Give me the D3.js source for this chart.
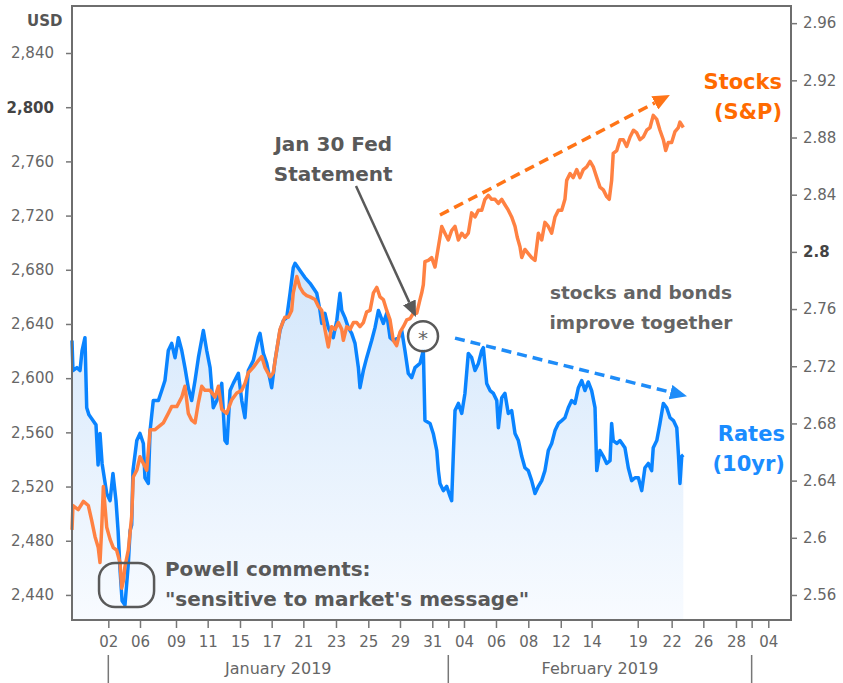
<!DOCTYPE html>
<html>
<head>
<meta charset="utf-8">
<script src="https://cdn.jsdelivr.net/npm/d3@7"></script>
<style>
  body { margin: 0; background: #fff; }
  text { font-family: "DejaVu Sans", Verdana, sans-serif; }
</style>
</head>
<body>
<script>
// page and plot box
var w = 843, h = 683;
var plotLeft = 72, plotRight = 791, plotTop = 6, plotBottom = 620;

// x is counted in trading sessions from Jan 02 2019 (weekends squeezed out)
var tickDays = [0, 1.98, 4.23, 6.21, 8.23, 10.21, 12.19, 14.23, 16.25, 18.23, 20.25, 21.25,
                22.23, 24.23, 26.25, 28.28, 30.21, 33.09, 35.21, 37.19, 39.23, 40.21, 41.25];
var tickLabels = ["02", "06", "09", "11", "15", "17", "21", "23", "25", "29", "31", "",
                  "04", "06", "08", "12", "14", "19", "22", "26", "28", "", "04"];
var monthNames = ["January 2019", "February 2019"];
var monthBounds = [0, 21.25, 40.21];

var usdTicks = [2440, 2480, 2520, 2560, 2600, 2640, 2680, 2720, 2760, 2800, 2840];
var rateTicks = [2.56, 2.6, 2.64, 2.68, 2.72, 2.76, 2.8, 2.84, 2.88, 2.92, 2.96];

// 10yr treasury yield (right axis)
var rateDays = [-2.27,-2.21,-1.96,-1.77,-1.64,-1.46,-1.35,-1.21,-0.96,-0.77,
  -0.64,-0.52,-0.39,-0.10,0.11,0.29,0.48,0.61,0.73,0.86,
  1.04,1.25,1.36,1.46,1.54,1.78,1.98,2.19,2.29,2.50,
  2.61,2.81,3.13,3.34,3.54,3.75,3.96,4.17,4.38,4.59,
  4.79,5.00,5.21,5.42,5.63,5.94,6.15,6.36,6.56,6.78,
  7.09,7.29,7.42,7.61,7.81,8.13,8.34,8.54,8.75,9.06,
  9.38,9.48,9.69,9.90,10.21,10.42,10.73,10.94,11.15,11.36,
  11.56,11.67,11.98,12.29,12.61,13.03,13.23,13.34,13.54,13.75,
  14.06,14.28,14.48,14.59,14.79,15.00,15.21,15.42,15.63,15.73,
  15.94,16.15,16.46,16.67,16.88,17.19,17.40,17.61,17.81,18.13,
  18.34,18.54,18.75,18.96,19.17,19.48,19.69,19.79,20.11,20.31,
  20.53,20.63,20.73,20.94,21.15,21.36,21.46,21.56,21.67,21.88,
  22.09,22.29,22.50,22.71,22.92,23.13,23.34,23.44,23.65,23.86,
  24.07,24.28,24.38,24.59,24.79,25.00,25.21,25.42,25.63,25.84,
  26.04,26.25,26.46,26.67,26.88,27.09,27.29,27.50,27.71,27.92,
  28.13,28.34,28.54,28.75,28.96,29.17,29.38,29.59,29.79,30.00,
  30.21,30.42,30.53,30.73,30.94,31.15,31.36,31.46,31.56,31.78,
  31.98,32.29,32.50,32.71,32.92,33.13,33.34,33.54,33.75,33.96,
  34.06,34.28,34.48,34.69,34.90,35.11,35.32,35.53,35.63,35.73,
  35.84,35.94];
var rateValues = [2.738,2.717,2.719,2.717,2.731,2.740,2.691,2.686,2.682,2.679,
  2.651,2.673,2.652,2.631,2.626,2.645,2.626,2.605,2.578,2.556,
  2.553,2.582,2.605,2.609,2.647,2.668,2.673,2.666,2.642,2.638,
  2.675,2.696,2.696,2.703,2.710,2.731,2.736,2.726,2.740,2.731,
  2.719,2.705,2.696,2.710,2.726,2.745,2.731,2.719,2.691,2.696,
  2.708,2.668,2.666,2.703,2.708,2.715,2.696,2.684,2.717,2.724,
  2.740,2.743,2.729,2.722,2.705,2.724,2.745,2.752,2.754,2.771,
  2.789,2.792,2.787,2.782,2.778,2.771,2.759,2.750,2.757,2.747,
  2.740,2.752,2.771,2.759,2.754,2.747,2.743,2.736,2.719,2.705,
  2.717,2.726,2.738,2.747,2.759,2.750,2.757,2.740,2.738,2.740,
  2.745,2.731,2.715,2.712,2.719,2.722,2.731,2.682,2.680,2.673,
  2.661,2.647,2.638,2.633,2.636,2.629,2.626,2.657,2.689,2.694,
  2.687,2.701,2.729,2.726,2.717,2.722,2.731,2.733,2.708,2.703,
  2.701,2.696,2.677,2.698,2.701,2.687,2.689,2.673,2.668,2.657,
  2.649,2.647,2.640,2.631,2.636,2.640,2.647,2.661,2.666,2.675,
  2.680,2.682,2.684,2.691,2.696,2.694,2.705,2.710,2.703,2.709,
  2.703,2.691,2.647,2.661,2.657,2.652,2.654,2.680,2.668,2.666,
  2.668,2.663,2.649,2.640,2.642,2.642,2.633,2.649,2.652,2.647,
  2.663,2.668,2.680,2.694,2.691,2.684,2.682,2.677,2.659,2.638,
  2.657,2.658];

// S&P 500 (left axis, USD)
var spxDays = [-2.27,-2.21,-1.88,-1.56,-1.25,-1.04,-0.83,-0.63,-0.52,-0.41,
  -0.31,-0.10,0.11,0.31,0.52,0.73,0.84,0.95,1.04,1.25,
  1.46,1.56,1.78,1.98,2.19,2.40,2.61,2.92,3.13,3.44,
  3.75,3.96,4.28,4.59,4.79,5.00,5.21,5.42,5.63,5.84,
  6.04,6.36,6.67,6.88,7.09,7.40,7.71,8.03,8.34,8.54,
  8.75,9.06,9.38,9.59,9.79,10.11,10.31,10.53,10.73,11.04,
  11.25,11.46,11.56,11.78,11.98,12.19,12.40,12.61,12.92,13.13,
  13.34,13.54,13.75,13.96,14.17,14.38,14.59,14.69,14.90,15.11,
  15.32,15.53,15.73,15.94,16.15,16.36,16.57,16.78,16.98,17.19,
  17.40,17.61,17.81,18.02,18.23,18.44,18.65,18.86,19.07,19.28,
  19.48,19.59,19.69,19.79,20.00,20.21,20.42,20.63,20.84,21.04,
  21.25,21.46,21.67,21.88,22.09,22.29,22.50,22.71,22.92,23.13,
  23.34,23.54,23.75,23.96,24.17,24.38,24.59,24.79,25.00,25.21,
  25.42,25.56,25.73,25.84,26.04,26.25,26.46,26.67,26.88,27.09,
  27.29,27.50,27.71,27.92,28.13,28.34,28.54,28.65,28.86,29.06,
  29.28,29.48,29.69,29.90,30.11,30.31,30.53,30.73,30.94,31.15,
  31.31,31.46,31.56,31.78,31.98,32.19,32.40,32.61,32.82,33.03,
  33.23,33.44,33.65,33.86,34.06,34.28,34.48,34.69,34.84,35.00,
  35.21,35.42,35.63,35.73,35.94];
var spxValues = [2488,2506,2503,2509,2506,2495,2483,2475,2464,2490,
  2520,2490,2481,2475,2473,2464,2445,2451,2461,2473,
  2498,2527,2532,2542,2537,2532,2562,2562,2564,2567,
  2574,2579,2579,2586,2594,2574,2569,2567,2582,2594,
  2591,2591,2586,2594,2577,2574,2584,2589,2591,2596,
  2604,2608,2613,2616,2608,2601,2604,2621,2636,2645,
  2645,2650,2663,2675,2667,2663,2661,2660,2658,2653,
  2650,2636,2623,2638,2636,2641,2636,2628,2638,2636,
  2641,2641,2638,2641,2649,2650,2663,2667,2660,2658,
  2650,2643,2628,2624,2634,2638,2643,2644,2648,2648,
  2658,2663,2669,2686,2687,2689,2682,2697,2712,2707,
  2702,2709,2712,2702,2707,2704,2707,2722,2719,2724,
  2724,2732,2735,2732,2732,2729,2732,2728,2724,2719,
  2712,2704,2697,2689,2695,2692,2689,2687,2707,2702,
  2715,2712,2707,2719,2724,2724,2732,2746,2751,2748,
  2754,2748,2754,2756,2760,2756,2748,2741,2739,2734,
  2732,2746,2766,2768,2776,2776,2771,2778,2783,2781,
  2776,2778,2783,2785,2794,2791,2783,2776,2768,2774,
  2774,2782,2785,2789,2785];

// annotation anchors, in [session, value] units
var spxTrend = [[20.73, 2720.4], [35.1, 2809]];
var rateTrend = [[21.67, 2.7397], [36.17, 2.699]];
var fedArrow = [[15.48, 2741.8], [19.23, 2645.2]];
var fedMark = [19.67, 2631];
var powellBox = [[-0.58, 2463.6], [2.86, 2431.1]];

var spxColor = "#ff8142", rateColor = "#0a84ff";
var grey = "#595959";

var x = d3.scaleLinear().domain([-2.27, 42.67]).range([plotLeft, plotRight]);
var yL = d3.scaleLinear().domain([2421.5, 2874.7]).range([plotBottom, plotTop]);
var yR = d3.scaleLinear().domain([2.5425, 2.972]).range([plotBottom, plotTop]);

var svg = d3.select("body").append("svg")
    .attr("width", w)
    .attr("height", h);

var defs = svg.append("defs");
var grad = defs.append("linearGradient")
    .attr("id", "rateFill")
    .attr("gradientUnits", "userSpaceOnUse")
    .attr("x1", 0).attr("x2", 0)
    .attr("y1", 260).attr("y2", plotBottom);
grad.append("stop").attr("offset", 0).attr("stop-color", "#d2e6fb");
grad.append("stop").attr("offset", 1).attr("stop-color", "#f8fbff");

function addHead(id, color, len, wid) {
  defs.append("marker")
      .attr("id", id)
      .attr("viewBox", "0 0 10 10")
      .attr("preserveAspectRatio", "none")
      .attr("refX", 0).attr("refY", 5)
      .attr("markerWidth", len).attr("markerHeight", wid)
      .attr("markerUnits", "userSpaceOnUse")
      .attr("orient", "auto")
    .append("path")
      .attr("d", "M0,0L10,5L0,10Z")
      .attr("fill", color);
}
addHead("headOrange", "#ff7417", 17, 15);
addHead("headBlue", "#1e8cf8", 17, 15);
addHead("headGrey", grey, 16, 14);

var rateData = d3.zip(rateDays, rateValues);
var spxData = d3.zip(spxDays, spxValues);

// rates area + line
svg.append("path")
    .datum(rateData)
    .attr("fill", "url(#rateFill)")
    .attr("d", d3.area()
      .x(function(d) { return x(d[0]); })
      .y0(plotBottom)
      .y1(function(d) { return yR(d[1]); }));

svg.append("path")
    .datum(rateData)
    .attr("fill", "none")
    .attr("stroke", rateColor)
    .attr("stroke-width", 3.5)
    .attr("stroke-linejoin", "round")
    .attr("d", d3.line()
      .x(function(d) { return x(d[0]); })
      .y(function(d) { return yR(d[1]); }));

svg.append("path")
    .datum(spxData)
    .attr("fill", "none")
    .attr("stroke", spxColor)
    .attr("stroke-width", 3.5)
    .attr("stroke-linejoin", "round")
    .attr("d", d3.line()
      .x(function(d) { return x(d[0]); })
      .y(function(d) { return yL(d[1]); }));

// arrow from p0 to tip p1 (pixels), line stops at marker base
function arrow(p0, p1, color, width, dash, head, len) {
  var dx = p1[0] - p0[0], dy = p1[1] - p0[1];
  var l = Math.sqrt(dx * dx + dy * dy);
  var ex = p1[0] - dx / l * len, ey = p1[1] - dy / l * len;
  svg.append("line")
      .attr("x1", p0[0]).attr("y1", p0[1])
      .attr("x2", ex).attr("y2", ey)
      .attr("stroke", color)
      .attr("stroke-width", width)
      .attr("stroke-dasharray", dash)
      .attr("marker-end", "url(#" + head + ")");
}

arrow([x(spxTrend[0][0]), yL(spxTrend[0][1])], [x(spxTrend[1][0]), yL(spxTrend[1][1])],
      "#ff7417", 3.5, "10,6", "headOrange", 17);
arrow([x(rateTrend[0][0]), yR(rateTrend[0][1])], [x(rateTrend[1][0]), yR(rateTrend[1][1])],
      "#1e8cf8", 3.5, "10,6", "headBlue", 17);
arrow([x(fedArrow[0][0]), yL(fedArrow[0][1])], [x(fedArrow[1][0]), yL(fedArrow[1][1])],
      grey, 2.5, null, "headGrey", 16);

// Jan 30 marker
svg.append("circle")
    .attr("cx", x(fedMark[0]))
    .attr("cy", yL(fedMark[1]))
    .attr("r", 15)
    .attr("fill", "#fff")
    .attr("fill-opacity", 0.85)
    .attr("stroke", grey)
    .attr("stroke-width", 2.5);
svg.append("text")
    .attr("x", x(fedMark[0]))
    .attr("y", yL(fedMark[1]) + 9)
    .attr("text-anchor", "middle")
    .attr("font-size", 20)
    .attr("fill", "#666")
    .text("*");

// Powell box
svg.append("rect")
    .attr("x", x(powellBox[0][0]))
    .attr("y", yL(powellBox[0][1]))
    .attr("width", x(powellBox[1][0]) - x(powellBox[0][0]))
    .attr("height", yL(powellBox[1][1]) - yL(powellBox[0][1]))
    .attr("rx", 16)
    .attr("fill", "none")
    .attr("stroke", grey)
    .attr("stroke-width", 2.5);

// frame
svg.append("rect")
    .attr("x", plotLeft).attr("y", plotTop)
    .attr("width", plotRight - plotLeft)
    .attr("height", plotBottom - plotTop)
    .attr("fill", "none")
    .attr("stroke", "#6e6e6e")
    .attr("stroke-width", 2);

// axes
var gL = svg.append("g")
    .attr("transform", "translate(" + plotLeft + ",0)")
    .call(d3.axisLeft(yL).tickValues(usdTicks).tickFormat(d3.format(",")).tickSize(6).tickPadding(12));
var gR = svg.append("g")
    .attr("transform", "translate(" + plotRight + ",0)")
    .call(d3.axisRight(yR).tickValues(rateTicks)
      .tickFormat(function(d) { return String(+d.toFixed(2)); }).tickSize(6).tickPadding(6));
var gB = svg.append("g")
    .attr("transform", "translate(0," + (plotBottom + 1) + ")")
    .call(d3.axisBottom(x).tickValues(tickDays)
      .tickFormat(function(d, i) { return tickLabels[i]; }).tickSize(7).tickPadding(8));

[gL, gR, gB].forEach(function(g) {
  g.select(".domain").remove();
  g.attr("font-family", "DejaVu Sans, Verdana, sans-serif").attr("font-size", 15);
  g.selectAll("line").attr("stroke", "#777").attr("stroke-width", 1.5);
  g.selectAll("text").attr("fill", "#666");
});
gL.selectAll("text").filter(function(d) { return d === 2800; })
    .attr("font-weight", "bold").attr("fill", "#444");
gR.selectAll("text").filter(function(d) { return Math.abs(d - 2.8) < 1e-9; })
    .attr("font-weight", "bold").attr("fill", "#444");

svg.append("text")
    .attr("x", 27).attr("y", 26)
    .attr("font-size", 15)
    .attr("font-weight", "bold")
    .attr("fill", "#555")
    .text("USD");

// month row
svg.selectAll(".monthSep")
    .data(monthBounds)
    .enter()
    .append("line")
    .attr("x1", function(d) { return x(d); })
    .attr("x2", function(d) { return x(d); })
    .attr("y1", 655).attr("y2", 683)
    .attr("stroke", "#777")
    .attr("stroke-width", 1.5);

svg.selectAll(".monthLabel")
    .data(monthNames)
    .enter()
    .append("text")
    .attr("x", function(d, i) { return (x(monthBounds[i]) + x(monthBounds[i + 1])) / 2; })
    .attr("y", 674)
    .attr("text-anchor", "middle")
    .attr("font-size", 16)
    .attr("fill", "#666")
    .text(function(d) { return d; });

// text notes
function note(lines, px, py, anchor, size, color) {
  var t = svg.append("text")
      .attr("x", px).attr("y", py)
      .attr("text-anchor", anchor)
      .attr("font-size", size)
      .attr("font-weight", "bold")
      .attr("fill", color);
  lines.forEach(function(s, i) {
    t.append("tspan").attr("x", px).attr("dy", i ? 30 : 0).text(s);
  });
}

note(["Jan 30 Fed", "Statement"], x(14.06), yL(2767.7), "middle", 20, grey);
note(["Powell comments:", "\"sensitive to market's message\""], x(3.54), yL(2454), "start", 20, grey);
note(["stocks and bonds", "improve together"], x(33.29), yL(2658.4), "middle", 18.5, "#646464");
note(["Stocks", "(S&P)"], x(42.11), yL(2813.4), "end", 21, "#ff6a00");
note(["Rates", "(10yr)"], x(42.29), yR(2.6676), "end", 21, "#1a8cff");
</script>
</body>
</html>
